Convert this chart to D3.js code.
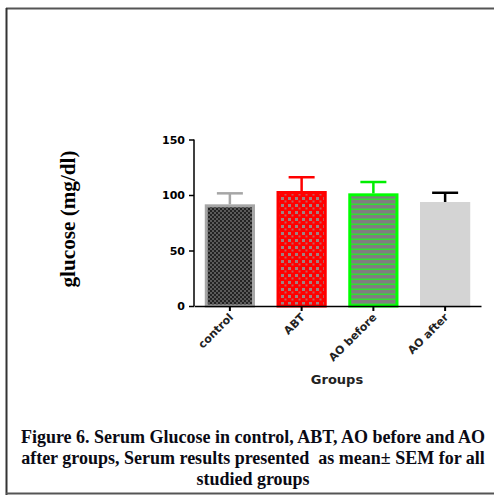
<!DOCTYPE html>
<html><head><meta charset="utf-8">
<script src="https://cdn.jsdelivr.net/npm/d3@7"></script>
<style>body{margin:0;background:#fff;}svg{display:block;}</style>
</head><body>
<svg id="c" width="494" height="495"></svg>
<script>
const categories = ["control", "ABT", "AO before", "AO after"];
const means = [91.6, 103.6, 101.5, 93.7];
const sems = [9.9, 12.4, 10.2, 8.3];
const yTicks = [0, 50, 100, 150];
const captionLines = [
  "Figure 6. Serum Glucose in control, ABT, AO before and AO",
  "after groups, Serum results presented  as mean\u00b1 SEM for all",
  "studied groups"
];

const svg = d3.select("#c");
const defs = svg.append("defs");
const sans = "'DejaVu Sans', Verdana, sans-serif";
const serif = "'Times New Roman', 'Liberation Serif', serif";

// patterns
const p1 = defs.append("pattern").attr("id","pCtrl").attr("patternUnits","userSpaceOnUse").attr("width",4).attr("height",4);
p1.append("rect").attr("width",4).attr("height",4).attr("fill","#5a5a5a");
p1.append("rect").attr("width",2).attr("height",2).attr("fill","#222");
p1.append("rect").attr("x",2).attr("y",2).attr("width",2).attr("height",2).attr("fill","#222");

const p2 = defs.append("pattern").attr("id","pAbt").attr("patternUnits","userSpaceOnUse").attr("width",7).attr("height",7);
p2.append("rect").attr("width",7).attr("height",7).attr("fill","#ff0000");
p2.append("rect").attr("x",1).attr("y",1).attr("width",3).attr("height",3).attr("fill","#a08080");
p2.append("rect").attr("x",4.5).attr("y",4.5).attr("width",2).attr("height",2).attr("fill","#c06060");

const p3 = defs.append("pattern").attr("id","pAob").attr("patternUnits","userSpaceOnUse").attr("width",5).attr("height",5);
p3.append("rect").attr("width",5).attr("height",5).attr("fill","#7f7f7f");
p3.append("rect").attr("y",3.5).attr("width",5).attr("height",1.5).attr("fill","#33dd33");

const fills = ["url(#pCtrl)", "url(#pAbt)", "url(#pAob)", "#d4d4d4"];
const strokes = ["#a6a6a6", "#ff0000", "#00ff00", "#d4d4d4"];
const errColors = ["#a6a6a6", "#ff0000", "#00ee00", "#000000"];

// frame
svg.append("line").attr("x1",6).attr("x2",494).attr("y1",8.5).attr("y2",8.5).attr("stroke","#555").attr("stroke-width",2);
svg.append("line").attr("x1",6.5).attr("x2",6.5).attr("y1",8).attr("y2",495).attr("stroke","#333").attr("stroke-width",2);
svg.append("line").attr("x1",6).attr("x2",494).attr("y1",493.5).attr("y2",493.5).attr("stroke","#555").attr("stroke-width",2);

const x = d3.scaleBand().domain(categories).range([194, 481]).paddingInner(0.3).paddingOuter(0.15);
const y = d3.scaleLinear().domain([0,150]).range([306, 139.5]);

const g = svg.append("g");

// bars
categories.forEach((c,i)=>{
  const bx = x(c), bw = x.bandwidth(), top = y(means[i]);
  g.append("rect").attr("x",bx+1.5).attr("y",top+1.5).attr("width",bw-3).attr("height",y(0)-top-1.5)
    .attr("fill",fills[i]).attr("stroke",strokes[i]).attr("stroke-width",3);
  const cx = bx + bw/2;
  const et = y(means[i]+sems[i]);
  g.append("line").attr("x1",cx).attr("x2",cx).attr("y1",top).attr("y2",et).attr("stroke",errColors[i]).attr("stroke-width",2.5);
  g.append("line").attr("x1",cx-13).attr("x2",cx+13).attr("y1",et).attr("y2",et).attr("stroke",errColors[i]).attr("stroke-width",2.5);
});

// y axis
const ya = svg.append("g").attr("transform","translate(194,0)")
  .call(d3.axisLeft(y).tickValues(yTicks).tickSize(5).tickPadding(4));
ya.select(".domain").attr("stroke","#000").attr("stroke-width",1.5).attr("d","M0,306V139.5");
ya.selectAll(".tick line").attr("stroke","#000").attr("stroke-width",1.5);
ya.selectAll(".tick text").attr("font-family",sans).attr("font-weight","bold").attr("font-size","11px").attr("fill","#000");

// x axis
const xa = svg.append("g").attr("transform","translate(0,306)")
  .call(d3.axisBottom(x).tickSize(5).tickSizeOuter(0));
xa.select(".domain").attr("stroke","#000").attr("stroke-width",1.5);
xa.selectAll(".tick line").attr("stroke","#000").attr("stroke-width",2);
xa.selectAll(".tick text").attr("font-family",sans).attr("font-weight","bold").attr("font-size","11px").attr("fill","#222")
  .attr("text-anchor","end").attr("dy",0).attr("y",0)
  .attr("transform","translate(4,12) rotate(-45)");

// axis titles
svg.append("text").attr("x",337).attr("y",384).attr("text-anchor","middle")
  .attr("font-family",sans).attr("font-weight","bold").attr("font-size","13px").attr("fill","#222").text("Groups");
svg.append("text").attr("transform","translate(75,219) rotate(-90)").attr("text-anchor","middle")
  .attr("font-family",serif).attr("font-weight","bold").attr("font-size","20px").attr("fill","#000")
  .attr("textLength",137).attr("lengthAdjust","spacingAndGlyphs").text("glucose (mg/dl)");

// caption
captionLines.forEach((t,i)=>{
  svg.append("text").attr("x",253).attr("y",443+i*21).attr("text-anchor","middle")
    .attr("font-family",serif).attr("font-weight","bold").attr("font-size","18px").attr("fill","#0a0a14")
    .style("white-space","pre").text(t);
});
</script>
</body></html>
